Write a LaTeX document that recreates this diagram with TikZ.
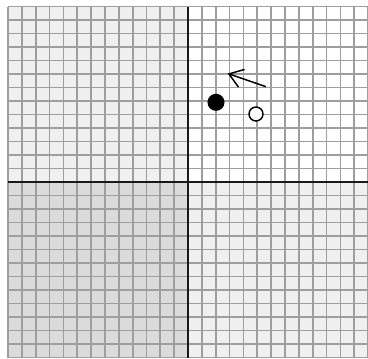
\documentclass[tikz,border=0pt]{standalone}
\usetikzlibrary{arrows.meta}
\begin{document}
\begin{tikzpicture}[x=0.75pt, y=-0.75pt, >={Straight Barb[length=10pt,width=14pt]},
    gridline/.style={draw=black!38, line width=1.3pt},
    axisline/.style={draw=black!90, line width=1.5pt}]
    \useasboundingbox (0,0) rectangle (368,358);
    \fill[white] (0,0) rectangle (368,358);
    \fill[black!6] (8,6.5) rectangle (188,182);
    \fill[white] (188,6.5) rectangle (368,182);
    \fill[black!14] (8,182) rectangle (188,358);
    \fill[black!6] (188,182) rectangle (368,358);
    \foreach \i in {0,...,26} {
        \draw[gridline] ({8+\i*13.85},6.5) -- ({8+\i*13.85},358);
        \draw[gridline] (8,{6.5+\i*13.5}) -- (368,{6.5+\i*13.5});
    }
    \draw[axisline] (188,6.5) -- (188,358);
    \draw[axisline] (8,182) -- (368,182);
    \node[circle, fill=black, inner sep=0pt, minimum size=12.8pt] (body) at (216,102.3) {};
    \node[circle, draw=black, fill=white, line width=1.1pt, inner sep=0pt, minimum size=10.5pt] (ghost) at (256,114) {};
    \coordinate (tail) at (266,86.7);
    \coordinate (head) at (227.7,73.5);
    \draw[->, line width=1.1pt] (tail) -- (head);
\end{tikzpicture}
\end{document}
